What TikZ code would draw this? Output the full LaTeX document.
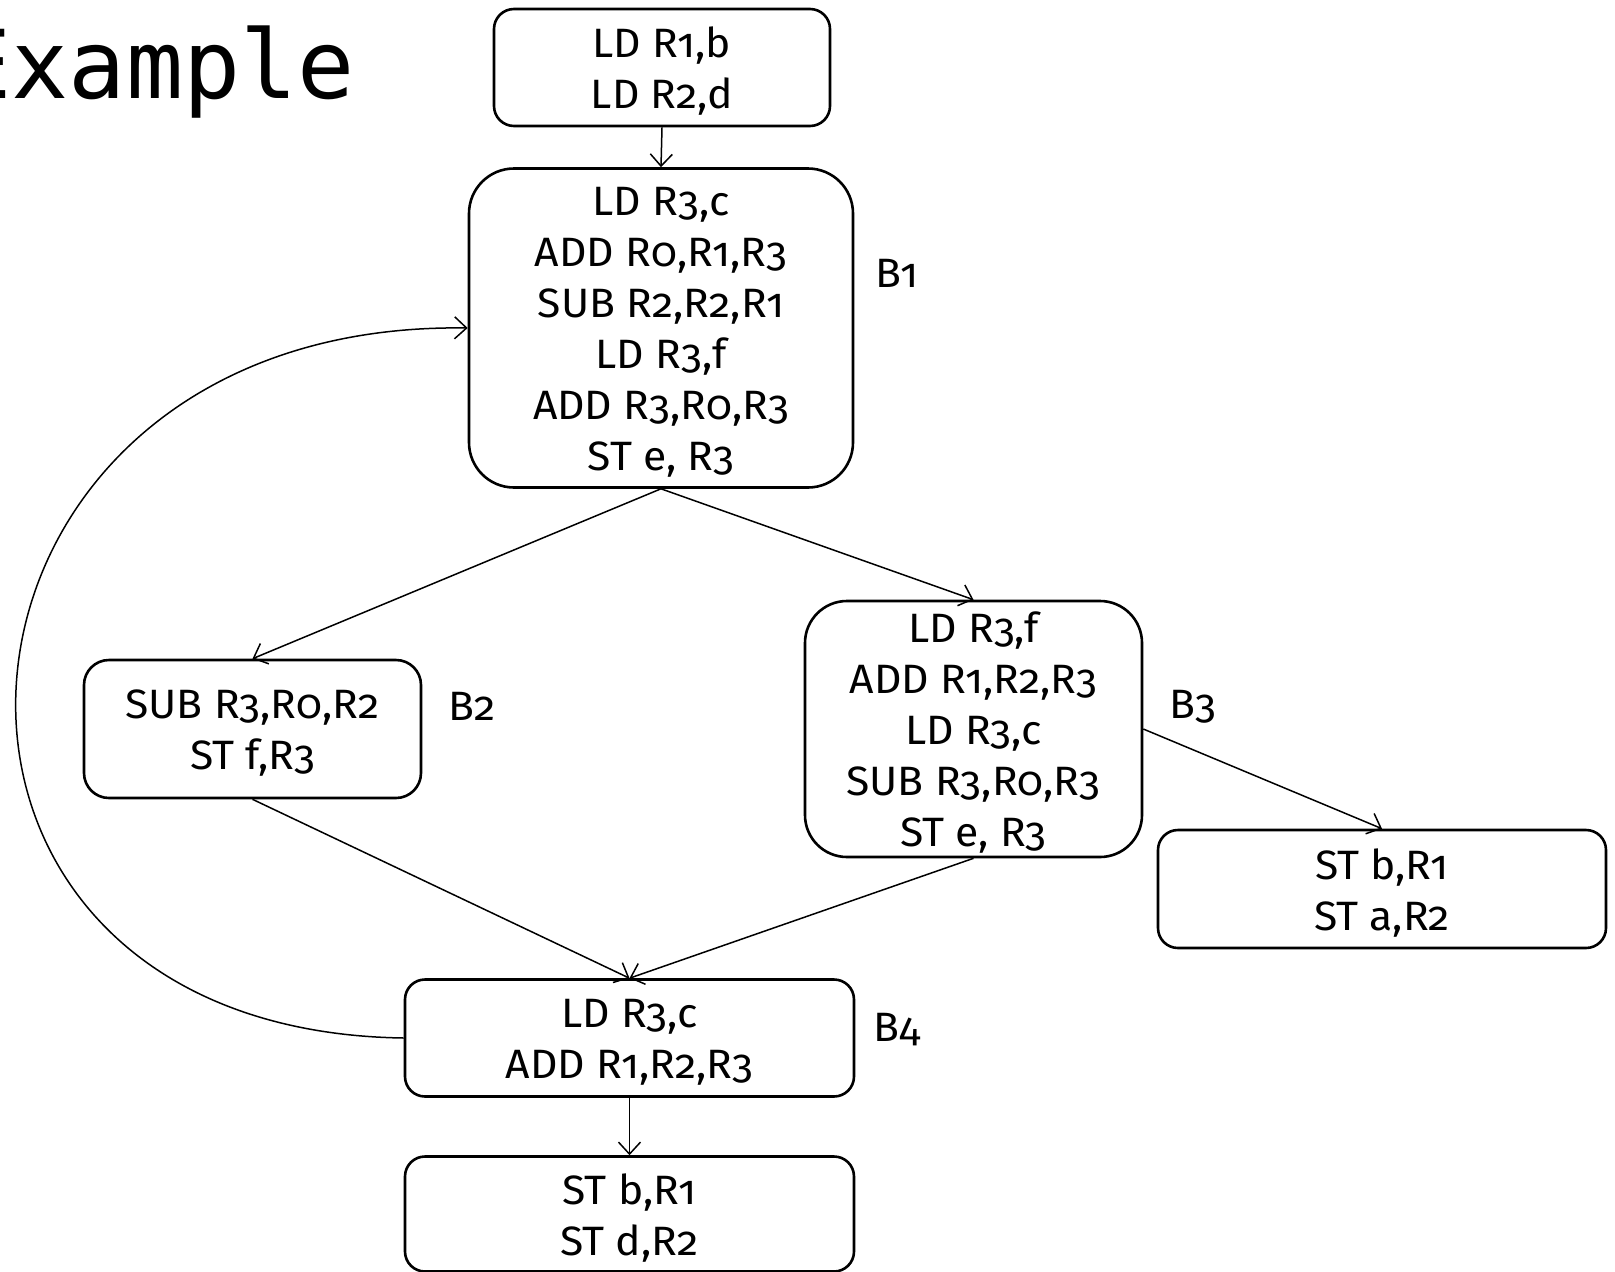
\documentclass[tikz,border=0pt]{standalone}
\usepackage{fontspec}
\setmainfont{Fira Sans}[Numbers=OldStyle,FakeStretch=1.04]
\newfontfamily\titlefont{DejaVu Sans Mono}
\usetikzlibrary{arrows.meta}
\begin{document}
\begin{tikzpicture}[x=1pt,y=-1pt,
  block/.style={draw, line width=2.6pt, inner sep=0pt},
  code/.style={align=center, inner sep=0pt, font=\fontsize{41}{51}\selectfont},
  tag/.style={font=\fontsize{41}{48}\selectfont, inner sep=0pt},
  flow/.style={line width=1.5pt, -{Straight Barb[length=12pt,width=22pt,line width=1.5pt]}}]
\useasboundingbox (0,0) rectangle (1615,1272);
% title, running off the left edge
\node[font=\titlefont\fontsize{95}{100}\selectfont, anchor=base east, inner sep=0pt] (title) at (355,98) {Example};
% basic blocks (frames)
\node[block, rounded corners=20pt, minimum width=336pt, minimum height=117pt] (entry) at (662,67.5) {};
\node[block, rounded corners=45pt, minimum width=384pt, minimum height=319pt] (b1) at (661,328) {};
\node[block, rounded corners=25pt, minimum width=337pt, minimum height=138pt] (b2) at (252.5,729) {};
\node[block, rounded corners=42pt, minimum width=337pt, minimum height=256pt] (b3) at (973.5,729) {};
\node[block, rounded corners=20pt, minimum width=448pt, minimum height=118pt] (exit3) at (1382,889) {};
\node[block, rounded corners=20pt, minimum width=449pt, minimum height=117pt] (b4) at (629.5,1038) {};
\node[block, rounded corners=20pt, minimum width=449pt, minimum height=115pt] (exit4) at (629.5,1214) {};
% instructions of each block
\node[code] (tentry) at ([yshift=-4pt]entry.center) {LD R1,b\\LD R2,d};
\node[code] (tb1) at ([yshift=-4pt]b1.center) {LD R3,c\\ADD R0,R1,R3\\SUB R2,R2,R1\\LD R3,f\\ADD R3,R0,R3\\ST e, R3};
\node[code] (tb2) at ([yshift=-4pt]b2.center) {SUB R3,R0,R2\\ST f,R3};
\node[code] (tb3) at ([yshift=-4pt]b3.center) {LD R3,f\\ADD R1,R2,R3\\LD R3,c\\SUB R3,R0,R3\\ST e, R3};
\node[code] (texit3) at ([yshift=-4pt]exit3.center) {ST b,R1\\ST a,R2};
\node[code] (tb4) at ([yshift=-4pt]b4.center) {LD R3,c\\ADD R1,R2,R3};
\node[code] (texit4) at ([yshift=-4pt]exit4.center) {ST b,R1\\ST d,R2};
% block names
\node[tag] (l1) at (897,273) {B1};
\node[tag] (l2) at (472,706) {B2};
\node[tag] (l3) at (1193,707) {B3};
\node[tag] (l4) at (897,1030) {B4};
% control flow
\draw[flow] (entry.south) -- (b1.north);
\draw[flow] (b1.south) -- (b2.north);
\draw[flow] (b1.south) -- (b3.north);
\draw[flow] (b2.south) -- (b4.north);
\draw[flow] (b3.south) -- (b4.north);
\draw[flow] (b3.east) -- (exit3.north);
\draw[flow] (b4.south) -- (exit4.north);
\draw[flow] (b4.west) .. controls (-150,1030) and (-95,320) .. (b1.west);
\end{tikzpicture}
\end{document}
